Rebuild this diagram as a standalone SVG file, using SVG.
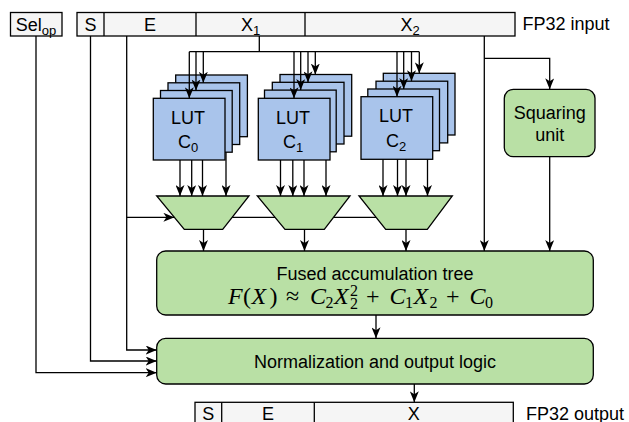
<svg xmlns="http://www.w3.org/2000/svg" width="629" height="422" viewBox="0 0 629 422">
  <style>
    text { font-family: "Liberation Sans", Arial, Helvetica, sans-serif; font-size: 18px; fill: #000; }
    .mid { text-anchor: middle; }
    .sub { font-size: 13px; }
    .bar { fill: #f5f5f5; stroke: #000; stroke-width: 1.3; }
    .div { stroke: #000; stroke-width: 1.3; fill: none; }
    .lut { fill: #a9c4eb; stroke: #000; stroke-width: 1.3; }
    .grn { fill: #b9e0a5; stroke: #000; stroke-width: 1.3; }
    .wire { fill: none; stroke: #000; stroke-width: 1.3; }
    .arr { marker-end: url(#head); }
    .math { font-family: "Liberation Serif", "DejaVu Serif", serif; font-size: 24px; }
    .it { font-style: italic; }
    .ms { font-size: 16px; }
  </style>
  <defs>
    <marker id="head" viewBox="0 0 11 9" refX="11" refY="4.5" markerWidth="11" markerHeight="9" markerUnits="userSpaceOnUse" orient="auto">
      <path d="M0,0 L11,4.5 L0,9 L3,4.5 Z" fill="#000"/>
    </marker>
  </defs>

  <!-- operation select input -->
  <g id="sel-op">
    <rect class="bar" x="10.5" y="12.5" width="51.5" height="23.5"/>
    <text x="36" y="30.5" class="mid">Sel<tspan class="sub" dy="4">op</tspan></text>
  </g>

  <!-- FP32 input word -->
  <g id="fp32-input">
    <rect class="bar" x="77" y="12.5" width="438" height="23.5"/>
    <path class="div" d="M104,12.5 V36 M196,12.5 V36 M305,12.5 V36"/>
    <text x="90.5" y="30.5" class="mid">S</text>
    <text x="150" y="30.5" class="mid">E</text>
    <text x="250.5" y="30.5" class="mid">X<tspan class="sub" dy="4">1</tspan></text>
    <text x="410" y="30.5" class="mid">X<tspan class="sub" dy="4">2</tspan></text>
    <text x="522.5" y="30">FP32 input</text>
  </g>

  <!-- coefficient lookup tables, four banks each -->
  <g id="lut-c0">
    <rect class="lut" x="175.7" y="75" width="71.7" height="61.7"/>
    <rect class="lut" x="168" y="82.8" width="71.7" height="61.7"/>
    <rect class="lut" x="160.5" y="90.5" width="71.7" height="61.7"/>
    <rect class="lut" x="153.3" y="98.3" width="71.7" height="61.7"/>
    <text x="188" y="123.5" class="mid">LUT</text>
    <text x="188" y="148.3" class="mid">C<tspan class="sub" dy="4">0</tspan></text>
  </g>
  <g id="lut-c1">
    <rect class="lut" x="280" y="74.5" width="71.7" height="61.7"/>
    <rect class="lut" x="272.3" y="82.3" width="71.7" height="61.7"/>
    <rect class="lut" x="264.5" y="90.1" width="71.7" height="61.7"/>
    <rect class="lut" x="258.3" y="98.3" width="71.7" height="61.7"/>
    <text x="293" y="123.5" class="mid">LUT</text>
    <text x="293" y="148.3" class="mid">C<tspan class="sub" dy="4">1</tspan></text>
  </g>
  <g id="lut-c2">
    <rect class="lut" x="383.3" y="73.3" width="71.7" height="61.7"/>
    <rect class="lut" x="376" y="81.2" width="71.7" height="61.7"/>
    <rect class="lut" x="367.8" y="89" width="71.7" height="61.7"/>
    <rect class="lut" x="361" y="96.7" width="71.7" height="62.6"/>
    <text x="396" y="122" class="mid">LUT</text>
    <text x="396" y="147" class="mid">C<tspan class="sub" dy="4">2</tspan></text>
  </g>

  <!-- bank selectors -->
  <g id="mux-0"><path class="grn" d="M156.7,196 H249 L222.7,229.3 H184.3 Z"/></g>
  <g id="mux-1"><path class="grn" d="M257.3,196 H350 L324.3,229.3 H285 Z"/></g>
  <g id="mux-2"><path class="grn" d="M359,196 H452.3 L427.3,229.3 H385.7 Z"/></g>

  <g id="squaring-unit">
    <rect class="grn" x="504.3" y="89.3" width="90.7" height="67.4" rx="9"/>
    <text x="549.7" y="118.5" class="mid">Squaring</text>
    <text x="549.7" y="141" class="mid">unit</text>
  </g>

  <g id="accumulation-tree">
    <rect class="grn" x="156.7" y="251" width="436.6" height="64" rx="9"/>
    <text x="375" y="279.5" class="mid">Fused accumulation tree</text>
    <text class="math" y="303.5">
      <tspan x="228" class="it">F</tspan><tspan x="243">(</tspan><tspan x="251.5" class="it">X</tspan><tspan x="269.5">)</tspan><tspan x="286">≈</tspan><tspan x="310" class="it">C</tspan><tspan x="325.5" y="307.5" class="ms">2</tspan><tspan x="334" y="303.5" class="it">X</tspan><tspan x="350" y="309" class="ms">2</tspan><tspan x="350" y="296" class="ms">2</tspan><tspan x="366" y="303.5">+</tspan><tspan x="389.5" class="it">C</tspan><tspan x="405" y="307.5" class="ms">1</tspan><tspan x="413.5" y="303.5" class="it">X</tspan><tspan x="429.5" y="307.5" class="ms">2</tspan><tspan x="446" y="303.5">+</tspan><tspan x="469.5" class="it">C</tspan><tspan x="485" y="307.5" class="ms">0</tspan>
    </text>
  </g>

  <g id="normalization">
    <rect class="grn" x="156.7" y="338.3" width="436.6" height="45.7" rx="9"/>
    <text x="375" y="367.5" class="mid">Normalization and output logic</text>
  </g>

  <!-- FP32 output word -->
  <g id="fp32-output">
    <rect class="bar" x="195" y="402.3" width="318.3" height="24"/>
    <path class="div" d="M221.7,402.3 V426.3 M314.3,402.3 V426.3"/>
    <text x="208.3" y="420" class="mid">S</text>
    <text x="268" y="420" class="mid">E</text>
    <text x="413.8" y="420" class="mid">X</text>
    <text x="526" y="419.5">FP32 output</text>
  </g>

  <g id="connectors">
    <!-- side-band signals into the output stage -->
    <path class="wire arr" d="M36,36 V372.7 H156.7"/>
    <path class="wire arr" d="M90.5,36 V361 H156.7"/>
    <path class="wire arr" d="M126.7,36 V350 H156.7"/>
    <!-- exponent to bank selectors -->
    <path class="wire arr" d="M126.7,217.3 H174.4"/>
    <path class="wire" d="M232.2,217.3 H275 M333.6,217.3 H376"/>

    <!-- X1 address bus fan-out -->
    <path class="wire" d="M259.3,36 V51.7 M189.3,51.7 H419.3"/>
    <path class="wire arr" d="M189.3,51.7 V98.3"/>
    <path class="wire arr" d="M196,51.7 V90.5"/>
    <path class="wire arr" d="M203.3,51.7 V82.8"/>
    <path class="wire arr" d="M294,51.7 V98.3"/>
    <path class="wire arr" d="M300.7,51.7 V90.1"/>
    <path class="wire arr" d="M308,51.7 V82.3"/>
    <path class="wire arr" d="M315.3,51.7 V74.5"/>
    <path class="wire arr" d="M397,51.7 V96.7"/>
    <path class="wire arr" d="M403.7,51.7 V89"/>
    <path class="wire arr" d="M411.5,51.7 V81.2"/>
    <path class="wire arr" d="M419.3,51.7 V73.3"/>

    <!-- LUT banks to selectors -->
    <path class="wire arr" d="M180,160 V196"/>
    <path class="wire arr" d="M191.7,160 V196"/>
    <path class="wire arr" d="M202.5,160 V196"/>
    <path class="wire arr" d="M226,152.2 V196"/>
    <path class="wire arr" d="M280.5,160 V196"/>
    <path class="wire arr" d="M292.8,160 V196"/>
    <path class="wire arr" d="M304,160 V196"/>
    <path class="wire arr" d="M326,160 V196"/>
    <path class="wire arr" d="M383,159.3 V196"/>
    <path class="wire arr" d="M397.5,159.3 V196"/>
    <path class="wire arr" d="M406,159.3 V196"/>
    <path class="wire arr" d="M427.5,159.3 V196"/>

    <!-- selectors to accumulation tree -->
    <path class="wire arr" d="M203.5,229.3 V251"/>
    <path class="wire arr" d="M304.5,229.3 V251"/>
    <path class="wire arr" d="M406,229.3 V251"/>

    <!-- X2 path -->
    <path class="wire arr" d="M484.3,36 V251"/>
    <path class="wire arr" d="M484.3,58.3 H549.7 V89.3"/>
    <path class="wire arr" d="M549.7,156.7 V251"/>

    <!-- tree to normalization to output -->
    <path class="wire arr" d="M376,315 V338.3"/>
    <path class="wire arr" d="M414.3,384 V402.3"/>
  </g>
</svg>
